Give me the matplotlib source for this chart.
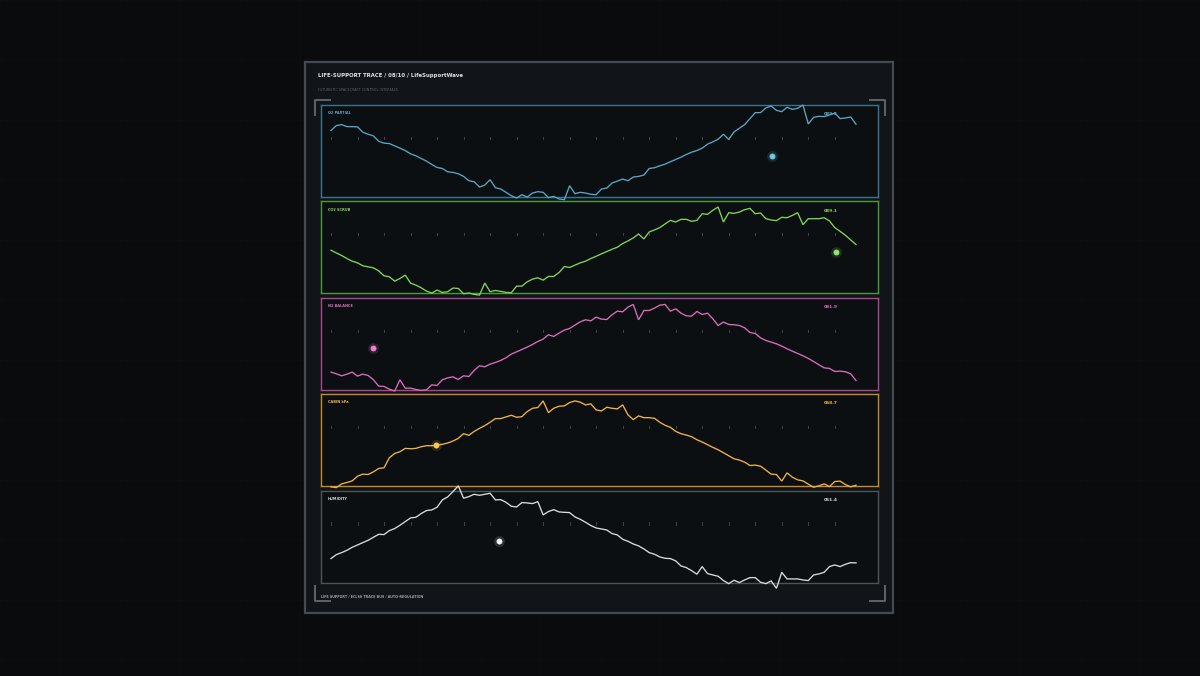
import numpy as np
import matplotlib
matplotlib.use("Agg")
import matplotlib.pyplot as plt
from matplotlib.patches import Rectangle
from matplotlib.lines import Line2D

# --- datos (escala 0-100 por panel) ---
o2_partial = [72.2, 77.6, 78.7, 76.5, 76.5, 76.2, 70.4, 68.2, 66.4, 60.6,
              58.5, 58.1, 55.6, 53.1, 50.5, 46.9, 44.8, 41.9, 39.0, 35.4,
              32.1, 31.0, 27.4, 26.7, 25.3, 22.4, 17.7, 16.6, 10.8, 13.0,
              18.8, 10.1, 8.7, 5.1, 1.4, -1.1, 2.5, 0.0, 4.3, 5.8,
              5.1, -0.7, 0.7, -2.2, -2.9, 12.3, 3.6, 5.1, 4.3, 2.9,
              2.5, 8.7, 9.7, 15.2, 17.3, 19.5, 17.7, 21.7, 22.4, 23.8,
              31.0, 31.8, 33.9, 35.7, 38.3, 40.8, 43.3, 46.2, 48.7, 50.5,
              53.1, 57.4, 59.9, 62.8, 68.2, 62.5, 70.8, 74.7, 78.7, 85.2,
              91.7, 91.7, 96.8, 98.9, 94.2, 92.8, 97.5, 95.3, 96.4, 100.0,
              79.4, 86.6, 87.7, 87.4, 89.2, 91.3, 85.2, 85.9, 87.0, 79.1]

co2_scrub = [46.9, 44.0, 41.2, 37.9, 35.0, 33.2, 30.0, 28.9, 27.8, 24.5,
             19.1, 18.1, 13.4, 16.2, 19.9, 11.2, 9.0, 6.1, 2.5, 0.4,
             3.6, 1.1, 1.8, 5.8, 5.4, -0.4, 0.4, -1.1, -1.8, 11.2,
             1.8, 3.2, 2.2, 1.1, 0.7, 7.9, 7.9, 12.6, 15.5, 17.0,
             14.4, 18.4, 18.4, 22.7, 29.2, 28.2, 30.7, 33.2, 35.0, 37.9,
             40.4, 43.0, 45.5, 48.0, 50.2, 54.2, 57.0, 60.3, 64.6, 59.2,
             66.8, 69.0, 71.5, 75.5, 79.4, 77.6, 80.5, 80.5, 78.3, 79.4,
             86.6, 85.9, 90.3, 93.9, 77.6, 87.7, 87.0, 88.4, 91.0, 92.4,
             86.6, 87.4, 81.2, 79.8, 79.1, 82.7, 82.3, 84.8, 87.7, 74.7,
             81.2, 81.2, 81.2, 82.3, 78.7, 71.5, 67.5, 63.2, 58.1, 53.1]

n2_balance = [19.2, 17.4, 15.2, 17.0, 19.2, 14.9, 17.0, 15.6, 10.9, 4.0,
              3.6, 0.7, -1.4, 10.9, 1.8, 1.8, 0.4, -0.7, 0.0, 5.4,
              4.7, 10.9, 13.0, 14.1, 11.2, 15.2, 14.5, 21.0, 26.1, 25.0,
              27.9, 29.7, 31.9, 34.8, 38.8, 41.3, 43.8, 46.4, 49.3, 52.5,
              55.1, 59.8, 58.0, 61.6, 64.9, 66.7, 70.3, 73.9, 76.1, 75.0,
              79.0, 76.8, 76.4, 81.5, 85.5, 84.8, 89.9, 92.8, 76.1, 86.2,
              86.2, 88.8, 92.0, 92.8, 85.5, 88.0, 83.3, 80.4, 80.1, 85.1,
              81.9, 83.3, 77.2, 69.9, 73.6, 71.0, 70.7, 69.9, 67.4, 62.3,
              61.2, 56.5, 53.6, 51.8, 50.0, 47.5, 44.6, 42.0, 39.5, 37.0,
              34.1, 30.8, 27.2, 23.9, 23.2, 19.9, 20.3, 19.6, 17.4, 10.1]

cabin_kpa = [-0.7, -1.5, 2.5, 4.0, 5.8, 10.9, 13.1, 12.7, 15.6, 19.3,
             20.0, 30.9, 35.6, 37.5, 41.1, 40.7, 41.1, 42.9, 44.0, 44.0,
             44.7, 45.5, 46.9, 49.1, 52.0, 57.1, 55.3, 59.6, 62.9, 65.8,
             69.5, 73.5, 73.5, 75.3, 77.1, 74.9, 75.6, 81.1, 84.7, 85.5,
             92.7, 80.0, 84.7, 86.9, 87.3, 90.9, 92.7, 91.3, 88.4, 89.5,
             82.9, 81.8, 85.8, 84.7, 84.0, 88.4, 77.5, 72.4, 76.4, 74.5,
             74.5, 73.8, 69.5, 66.2, 64.0, 59.6, 57.1, 55.6, 53.8, 50.5,
             48.0, 45.1, 42.2, 39.6, 36.4, 33.1, 29.8, 28.4, 26.2, 22.5,
             22.9, 21.8, 17.5, 13.1, 12.7, 5.5, 14.5, 9.8, 6.9, 5.8,
             2.2, -1.1, 0.4, 2.5, -0.4, 5.1, 5.5, 1.8, -0.7, 1.1]

humidity = [26.1, 30.4, 32.6, 35.1, 38.4, 40.9, 43.5, 46.0, 49.3, 52.5,
            52.2, 56.5, 58.7, 62.3, 66.3, 70.3, 71.0, 75.0, 78.3, 79.0,
            81.9, 89.9, 93.1, 98.9, 105.1, 91.7, 93.5, 96.0, 94.9, 96.0,
            97.1, 89.9, 90.2, 87.3, 83.0, 82.2, 87.0, 86.6, 85.9, 88.0,
            73.6, 77.2, 79.3, 76.8, 76.4, 76.1, 71.4, 68.8, 65.6, 62.0,
            59.4, 58.3, 57.2, 53.3, 51.8, 47.1, 44.9, 42.0, 39.9, 36.6,
            32.6, 30.8, 27.9, 26.4, 26.1, 23.6, 18.1, 16.3, 13.0, 9.1,
            17.4, 9.8, 8.3, 6.9, 2.2, -1.1, 2.5, 0.0, 2.9, 5.4,
            5.4, 0.4, -1.1, 1.8, -6.2, 11.2, 4.0, 4.0, 4.0, 2.9,
            2.2, 8.3, 9.4, 11.2, 17.4, 19.2, 17.4, 19.9, 21.7, 21.4]

etiquetas = ["O2 PARTIAL", "CO2 SCRUB", "N2 BALANCE", "CABIN kPa", "HUMIDITY"]
lecturas = ["089.2", "089.1", "081.9", "068.7", "051.4"]
cursor_idx = [83.2, 95.2, 7.9, 19.8, 31.7]
cursor_val = [45, 45, 45, 45, 45]

series = [o2_partial, co2_scrub, n2_balance, cabin_kpa, humidity]
colores_linea = ["#5aa6c4", "#7fd65a", "#dc6cbc", "#f0b445", "#d9dcdf"]
colores_borde = ["#3a7490", "#4a9a36", "#a8478f", "#c98a2a", "#4c5458"]
colores_punto = ["#6cc6e6", "#8ee66a", "#f07cd0", "#ffc850", "#f0f0f0"]

W, H = 1200, 676


def fx(x):
    return x / W


def fy(y):
    return 1 - y / H


fig = plt.figure(figsize=(12, 6.76), dpi=100)
fig.patch.set_facecolor("#090b0d")

# rejilla tenue de fondo
for gx in range(0, W, 60):
    fig.add_artist(Line2D([fx(gx), fx(gx)], [0, 1], color="#0c0f11", lw=0.5, zorder=-3))
for gy in range(0, H, 60):
    fig.add_artist(Line2D([0, 1], [fy(gy), fy(gy)], color="#0c0f11", lw=0.5, zorder=-3))

# tarjeta principal
fig.add_artist(Rectangle((fx(305), fy(613)), fx(893) - fx(305), fy(62) - fy(613),
                         facecolor="#111519", edgecolor="#434b50", lw=1.6, zorder=-1))

fig.text(fx(318), fy(76), "LIFE-SUPPORT TRACE / 08/10 / LifeSupportWave",
         color="#dfe3e6", fontsize=3.9, fontweight="bold", va="center", ha="left")
fig.text(fx(318), fy(90), "FUTURISTIC SPACECRAFT CONTROL INTERFACE",
         color="#596167", fontsize=2.4, va="center", ha="left")
fig.text(fx(321), fy(597), "LIFE SUPPORT / ECLSS TRACE BUS / AUTO-REGULATION",
         color="#9aa2a7", fontsize=2.4, fontweight="bold", va="center", ha="left")

# esquinas
cc = "#5c6569"
for (x0, y0, dx, dy) in [(315, 100, 1, 1), (885, 100, -1, 1), (315, 601, 1, -1), (885, 601, -1, -1)]:
    fig.add_artist(Line2D([fx(x0), fx(x0), fx(x0 + 15 * dx)],
                          [fy(y0 + 15 * dy), fy(y0), fy(y0)], color=cc, lw=1.4, zorder=2))

tops = [105, 201.4, 297.8, 394.2, 490.6]
alto = 92
x_ini, x_fin = 331, 856
paso = (x_fin - x_ini) / 99
izq, der = 321, 878
idx = np.arange(100)

for i, datos in enumerate(series):
    top = tops[i]
    ax = fig.add_axes([fx(izq), fy(top + alto), fx(der) - fx(izq), fy(top) - fy(top + alto)])
    ax.set_zorder(1)
    ax.set_facecolor("#0c0f12")
    ax.set_xlim(-(x_ini - izq) / paso, 99 + (der - x_fin) / paso)
    ax.set_ylim(0, 100)
    ax.set_xticks([])
    ax.set_yticks([])
    for s in ax.spines.values():
        s.set_color(colores_borde[i])
        s.set_linewidth(1.0)

    # marcas pequenas cada 5 muestras
    for t in range(0, 100, 5):
        ax.plot([t, t], [63, 65.5], color="#4a5055", lw=0.6)

    ax.plot(idx, datos, color=colores_linea[i], lw=0.95, clip_on=False, zorder=3,
            solid_joinstyle="miter")

    # punto cursor con brillo
    ax.scatter([cursor_idx[i]], [cursor_val[i]], s=60, color=colores_punto[i], alpha=0.15,
               linewidths=0, zorder=4)
    ax.scatter([cursor_idx[i]], [cursor_val[i]], s=18, color=colores_punto[i],
               linewidths=0, zorder=5)

    ax.text((328 - izq) / paso + ax.get_xlim()[0], 91, etiquetas[i], color=colores_linea[i],
            fontsize=2.5, fontweight="bold", va="center", ha="left")
    ax.text((838 - izq) / paso + ax.get_xlim()[0], 90, lecturas[i], color=colores_linea[i],
            fontsize=3.2, fontweight="bold", va="center", ha="right")

fig.savefig("out.png", dpi=100, facecolor=fig.get_facecolor())
